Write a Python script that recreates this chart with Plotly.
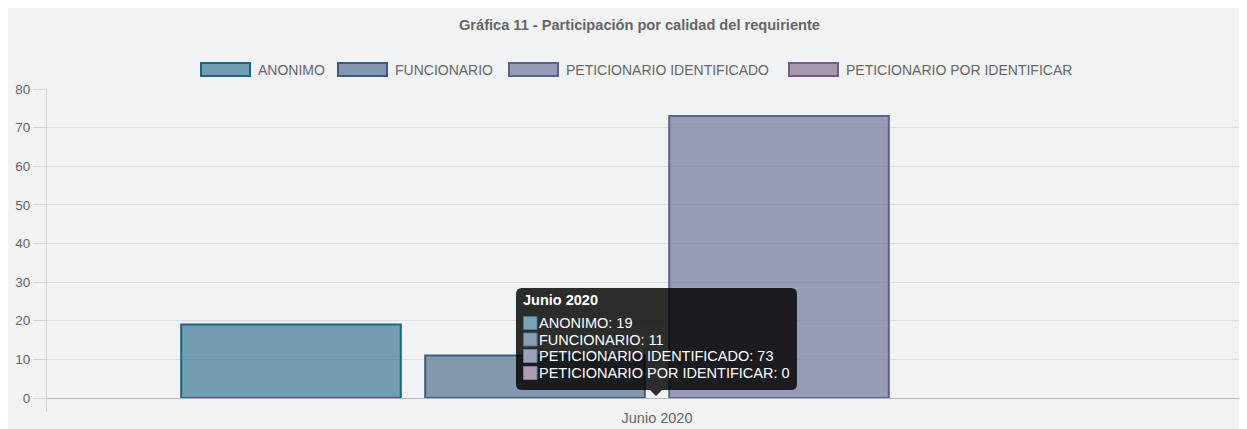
import plotly.graph_objects as go

# ---- data ----
categories = ["Junio 2020"]
series_names = ["ANONIMO", "FUNCIONARIO", "PETICIONARIO IDENTIFICADO", "PETICIONARIO POR IDENTIFICAR"]
series_values = [[19], [11], [73], [0]]
y_ticks = [0, 10, 20, 30, 40, 50, 60, 70, 80]
title_text = "Gráfica 11 - Participación por calidad del requiriente"

# ---- style ----
base_rgb = [(31, 100, 130), (59, 92, 128), (90, 99, 140), (119, 92, 133)]
FONT = "Liberation Sans, Arial, Helvetica, sans-serif"
OFF = 8  # page body margin
W, H = 1247 - OFF, 429 - OFF
L, T = 47 - OFF, 89 - OFF
B = H - (398 - OFF)
PW = W - L
PH = H - T - B


# helpers take screen-pixel coordinates
def px(x):
    return (x - OFF - L) / PW


def py(y):
    return (H - B - (y - OFF)) / PH


def rgba(c, a):
    return f"rgba({c[0]},{c[1]},{c[2]},{a})"


def over_white(c, a):
    return "rgb(%d,%d,%d)" % tuple(round(a * v + (1 - a) * 255) for v in c)


fig = go.Figure()
for name, vals, c in zip(series_names, series_values, base_rgb):
    fig.add_trace(go.Bar(
        x=categories, y=vals, name=name,
        marker=dict(color=rgba(c, 0.6),
                    line=dict(color=rgba(c, 1), width=[2 if v else 0 for v in vals])),
        showlegend=False, hoverinfo="skip",
    ))

shapes = []
annotations = []

# outer panel
shapes.append(dict(type="rect", xref="paper", yref="paper", layer="below",
                   x0=px(7), x1=px(1300), y0=py(460), y1=py(6),
                   fillcolor="#f1f2f4", line=dict(color="#e2e3e5", width=2)))
# y axis line extending below the x-axis
shapes.append(dict(type="line", xref="paper", yref="paper", layer="above",
                   x0=px(46.5), x1=px(46.5), y0=py(412), y1=py(89),
                   line=dict(color="#d4d5d8", width=1)))

# title
annotations.append(dict(xref="paper", yref="paper", x=px(639), y=py(25),
                        text="<b>" + title_text + "</b>", showarrow=False,
                        font=dict(family=FONT, size=14.6, color="#666666"),
                        xanchor="center", yanchor="middle"))

# legend (custom wide boxes)
legend_x = [200, 337, 508, 788]
for name, c, lx in zip(series_names, base_rgb, legend_x):
    shapes.append(dict(type="rect", xref="paper", yref="paper", layer="above",
                       x0=px(lx + 1), x1=px(lx + 50), y0=py(76), y1=py(63),
                       fillcolor=rgba(c, 0.6), line=dict(color=rgba(c, 1), width=2)))
    annotations.append(dict(xref="paper", yref="paper", x=px(lx + 56), y=py(69.5),
                            text=name, showarrow=False,
                            font=dict(family=FONT, size=14, color="#666666"),
                            xanchor="left", yanchor="middle"))

# tooltip box (rounded) + arrow
x0, x1, y0, y1, r = 516, 797, 288, 390, 6
path_pts = [
    ("M", x0 + r, y0), ("L", x1 - r, y0), ("Q", x1, y0, x1, y0 + r),
    ("L", x1, y1 - r), ("Q", x1, y1, x1 - r, y1),
    ("L", 662, y1), ("L", 656, 396), ("L", 650, y1),
    ("L", x0 + r, y1), ("Q", x0, y1, x0, y1 - r),
    ("L", x0, y0 + r), ("Q", x0, y0, x0 + r, y0),
]
parts = []
for p in path_pts:
    cmd = p[0]
    coords = p[1:]
    conv = []
    for i in range(0, len(coords), 2):
        conv.append(f"{px(coords[i]):.5f},{py(coords[i+1]):.5f}")
    parts.append(cmd + " ".join(conv))
shapes.append(dict(type="path", xref="paper", yref="paper", layer="above",
                   path=" ".join(parts) + " Z",
                   fillcolor="rgba(0,0,0,0.82)", line=dict(width=0)))

annotations.append(dict(xref="paper", yref="paper", x=px(521), y=py(300),
                        text="<b>" + categories[0] + "</b>", showarrow=False,
                        font=dict(family=FONT, size=14.5, color="#ffffff"),
                        xanchor="left", yanchor="middle"))
line_y = [323, 339.5, 356, 373]
for name, vals, c, ly in zip(series_names, series_values, base_rgb, line_y):
    shapes.append(dict(type="rect", xref="paper", yref="paper", layer="above",
                       x0=px(523.5), x1=px(537), y0=py(ly + 6.5), y1=py(ly - 6.5),
                       fillcolor=over_white(c, 0.6), line=dict(color=over_white(c, 0.85), width=1)))
    annotations.append(dict(xref="paper", yref="paper", x=px(536.5), y=py(ly),
                            text=f"{name}: {vals[0]}", showarrow=False,
                            font=dict(family=FONT, size=14.5, color="#ffffff"),
                            xanchor="left", yanchor="middle"))

fig.update_layout(
    width=W, height=H,
    margin=dict(l=L, r=0, t=T, b=B, pad=0),
    paper_bgcolor="#ffffff",
    plot_bgcolor="rgba(0,0,0,0)",
    barmode="group", bargap=0.2, bargroupgap=0.1,
    showlegend=False,
    shapes=shapes, annotations=annotations,
    font=dict(family=FONT, size=12, color="#666666"),
    xaxis=dict(range=[-0.5, -0.5 + PW / 1220], showgrid=False, zeroline=False,
               showline=True, linecolor="#b5b6b9", linewidth=1,
               ticks="outside", ticklen=7, tickcolor="rgba(0,0,0,0)",
               tickfont=dict(family=FONT, size=14.5, color="#666666"), fixedrange=True),
    yaxis=dict(range=[0, 80], tickvals=y_ticks, showgrid=True, gridcolor="#dcdde0",
               gridwidth=1, zeroline=False, showline=False,
               ticks="outside", ticklen=13, tickcolor="#d4d5d8",
               tickfont=dict(family=FONT, size=13.5, color="#666666"), fixedrange=True),
)

fig.write_html("out.html")
